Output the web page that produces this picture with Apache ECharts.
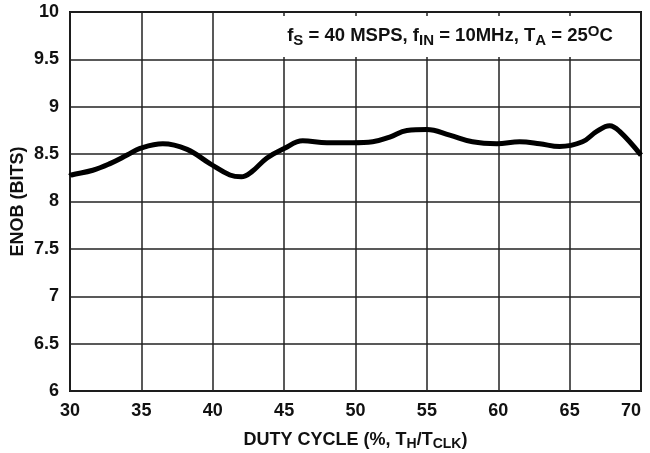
<!DOCTYPE html>
<html>
<head>
<meta charset="utf-8">
<script src="https://cdn.jsdelivr.net/npm/echarts@6/dist/echarts.min.js"></script>
<style>html,body{margin:0;padding:0;background:#fff}#c{width:650px;height:453px}</style>
</head>
<body>
<div id="c"></div>
<script>
const dutyCycle = [30, 30.1, 31.6, 32.8, 34.0, 34.9, 36.5, 38.2, 39.8, 41.2, 42.0, 42.7, 43.8, 45.0, 46.3, 48.0, 49.8, 51.2, 52.4, 53.6, 55.0, 56.6, 58.2, 59.9, 61.5, 62.9, 64.3, 65.9, 66.9, 67.8, 68.5, 70];
const enob =      [8.27, 8.28, 8.33, 8.40, 8.49, 8.56, 8.61, 8.55, 8.40, 8.28, 8.26, 8.31, 8.46, 8.56, 8.64, 8.62, 8.62, 8.63, 8.68, 8.75, 8.76, 8.70, 8.63, 8.61, 8.63, 8.61, 8.58, 8.63, 8.74, 8.80, 8.74, 8.49];
const xTicks = [30, 35, 40, 45, 50, 55, 60, 65, 70];
const yTicks = [6, 6.5, 7, 7.5, 8, 8.5, 9, 9.5, 10];

const FONT = 'Liberation Sans, Arial, sans-serif';
const chart = echarts.init(document.getElementById('c'));
chart.setOption({
  animation: false,
  grid: { left: 70, right: 9, top: 12, bottom: 62, containLabel: false, outerBoundsMode: 'none', show: true, borderColor: '#111', borderWidth: 2, backgroundColor: 'transparent' },
  xAxis: {
    type: 'value', min: xTicks[0], max: xTicks[xTicks.length - 1], interval: 5,
    axisLine: { show: false }, axisTick: { show: false },
    splitLine: { show: true, lineStyle: { color: '#222', width: 1.5 } },
    axisLabel: { fontFamily: FONT, fontWeight: 'bold', fontSize: 18, color: '#111', margin: 11, alignMaxLabel: 'right' },
    name: '{n|DUTY CYCLE (%, T}{s|H}{n|/T}{s|CLK}{n|)}',
    nameLocation: 'middle', nameGap: 38,
    nameTextStyle: {
      rich: {
        n: { fontFamily: FONT, fontWeight: 'bold', fontSize: 18, color: '#111', lineHeight: 22, verticalAlign: 'middle' },
        s: { fontFamily: FONT, fontWeight: 'bold', fontSize: 14, color: '#111', lineHeight: 14, verticalAlign: 'bottom' }
      }
    }
  },
  yAxis: {
    type: 'value', min: yTicks[0], max: yTicks[yTicks.length - 1], interval: 0.5,
    axisLine: { show: false }, axisTick: { show: false },
    splitLine: { show: true, lineStyle: { color: '#222', width: 1.5 } },
    axisLabel: { fontFamily: FONT, fontWeight: 'bold', fontSize: 18, color: '#111', margin: 11 },
    name: 'ENOB (BITS)', nameLocation: 'middle', nameGap: 43, nameMoveOverlap: false,
    nameTextStyle: { fontFamily: FONT, fontWeight: 'bold', fontSize: 18, color: '#111' }
  },
  series: [{
    type: 'line', data: dutyCycle.map((x, i) => [x, enob[i]]),
    smooth: 0.4, showSymbol: false, symbol: 'none',
    lineStyle: { color: '#000', width: 5 }
  }],
  graphic: [
    { type: 'rect', shape: { x: 279, y: 16, width: 358, height: 41 }, style: { fill: '#fff' }, z: 10 },
    { type: 'text', x: 450, y: 36, z: 11,
      style: {
        text: '{n|f}{s|S}{n| = 40 MSPS, f}{s|IN}{n| = 10MHz, T}{s|A}{n| = 25}{p|O}{n|C}',
        align: 'center', verticalAlign: 'middle',
        rich: {
          n: { fontFamily: FONT, fontWeight: 'bold', fontSize: 18.5, fill: '#111', lineHeight: 24, verticalAlign: 'middle' },
          s: { fontFamily: FONT, fontWeight: 'bold', fontSize: 15, fill: '#111', lineHeight: 15, verticalAlign: 'bottom' },
          p: { fontFamily: FONT, fontWeight: 'bold', fontSize: 15, fill: '#111', lineHeight: 15, verticalAlign: 'top' }
        }
      }
    }
  ]
});
</script>
</body>
</html>
